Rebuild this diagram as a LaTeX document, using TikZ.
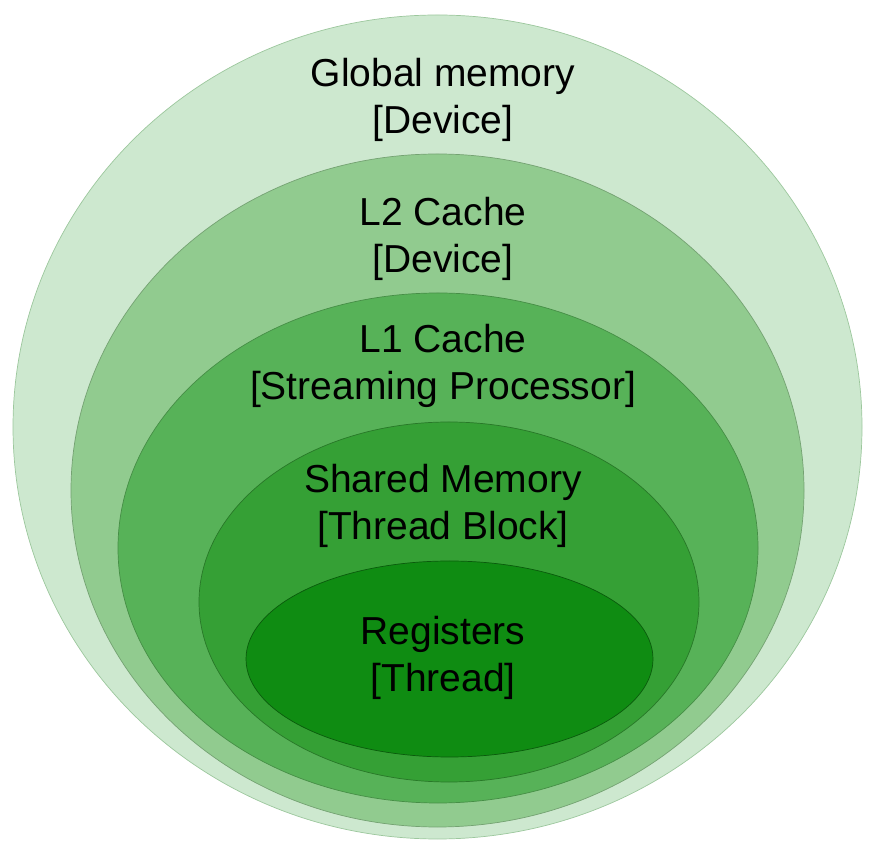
\documentclass[tikz,border=0pt]{standalone}
\usepackage{fontspec}
\setmainfont{Liberation Sans}
\definecolor{globalfill}{HTML}{CDE8CF}
\definecolor{ltwofill}{HTML}{91CB8F}
\definecolor{lonefill}{HTML}{57B258}
\definecolor{sharedfill}{HTML}{35A035}
\definecolor{regfill}{HTML}{0F8C12}
\definecolor{globalline}{HTML}{9CC79D}
\tikzset{
  layer/.style={line width=0.7pt},
  memlabel/.style={align=center, inner sep=0pt, font=\fontsize{39}{47}\selectfont}
}
\begin{document}
\begin{tikzpicture}[x=1pt, y=1pt]
          \useasboundingbox (0,0) rectangle (885,856);

          % Niveis de memoria (de fora para dentro)
          \filldraw[layer, fill=globalfill, draw=globalline] 
            (437.5,429) ellipse [x radius=424.5, y radius=412];
          \filldraw[layer, fill=ltwofill, draw=ltwofill!80!black] 
            (437.5,365.5) ellipse [x radius=366.5, y radius=336.5];
          \filldraw[layer, fill=lonefill, draw=lonefill!80!black] 
            (438,308) ellipse [x radius=320, y radius=255];
          \filldraw[layer, fill=sharedfill, draw=sharedfill!75!black] 
            (449,254) ellipse [x radius=250, y radius=180];
          \filldraw[layer, fill=regfill, draw=regfill!65!black] 
            (449.5,197) ellipse [x radius=203.5, y radius=98];

          % Rotulos
          \node[memlabel] (global) at (443,756) {Global memory\\{[Device]}};
          \node[memlabel] (ltwo) at (443,617) {L2 Cache\\{[Device]}};
          \node[memlabel] (lone) at (443,490) {L1 Cache\\{[Streaming Processor]}};
          \node[memlabel] (shared) at (443,350) {Shared Memory\\{[Thread Block]}};
          \node[memlabel] (reg) at (443,198) {Registers\\{[Thread]}};

        \end{tikzpicture}
\end{document}
